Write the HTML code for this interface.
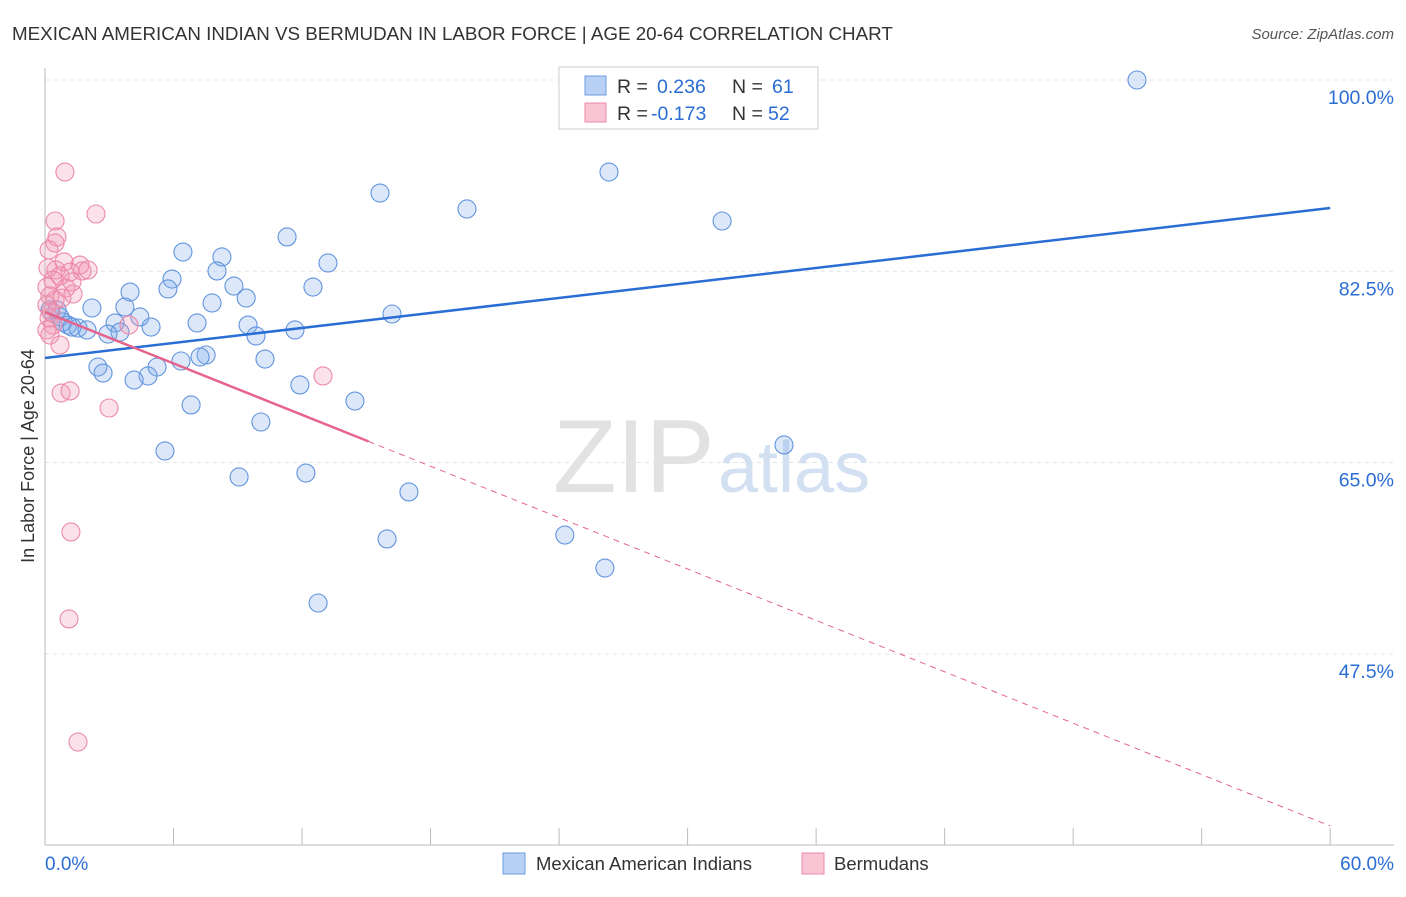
<!DOCTYPE html>
<html><head><meta charset="utf-8"><style>
body{margin:0;background:#fff;font-family:"Liberation Sans",sans-serif}
svg text{font-family:"Liberation Sans",sans-serif}
</style></head><body>
<svg id="c" width="1406" height="892">
<text x="12" y="40" font-size="18.8" fill="#333">MEXICAN AMERICAN INDIAN VS BERMUDAN IN LABOR FORCE | AGE 20-64 CORRELATION CHART</text>
<text x="1394" y="39" font-size="15" fill="#555" text-anchor="end" font-style="italic">Source: ZipAtlas.com</text>
<text transform="translate(34,456) rotate(-90)" font-size="18" fill="#333" text-anchor="middle">In Labor Force | Age 20-64</text>
<g id="grid"></g>
<text x="553" y="492" font-size="104" fill="#e2e2e2" font-family="Liberation Serif">ZIP</text>
<text x="718" y="492" font-size="72" fill="#d3e0f2">atlas</text>
<g id="pts"></g>
<g id="lines"></g>
<rect x="559" y="67" width="259" height="62" fill="#fff" stroke="#ccc"/>
<rect x="585" y="76" width="21" height="19" fill="#b8d0f4" stroke="#6a9be0"/>
<rect x="585" y="103" width="21" height="19" fill="#f9c4d3" stroke="#ec8aa8"/>
<text x="617" y="93" font-size="19.5" fill="#333">R = <tspan x="657" fill="#2a6dd4">0.236</tspan><tspan x="732">N = </tspan><tspan x="772" fill="#2a6dd4">61</tspan></text>
<text x="617" y="120" font-size="19.5" fill="#333">R = <tspan x="651" fill="#2a6dd4">-0.173</tspan><tspan x="732">N = </tspan><tspan x="768" fill="#2a6dd4">52</tspan></text>
<rect x="503" y="853" width="22" height="21" fill="#b8d0f4" stroke="#6a9be0"/>
<text x="536" y="870" font-size="18.5" fill="#333">Mexican American Indians</text>
<rect x="802" y="853" width="22" height="21" fill="#f9c4d3" stroke="#ec8aa8"/>
<text x="834" y="870" font-size="18.5" fill="#333">Bermudans</text>
<text x="45" y="870" font-size="19" fill="#2a6dd4">0.0%</text>
<text x="1394" y="870" font-size="19" fill="#2a6dd4" text-anchor="end">60.0%</text>
</svg>
<script>
const yTicks=[100,82.5,65,47.5];
const yTickLabels=["100.0%","82.5%","65.0%","47.5%"];
const xTicks=[0,6,12,18,24,30,36,42,48,54,60];
const blueX=[28.66,50.98,26.33,15.64,19.70,31.61,11.30,6.44,8.26,13.21,8.03,5.93,8.82,12.51,5.74,3.97,9.39,7.80,2.19,3.73,16.20,4.43,0.70,7.10,3.27,9.48,4.95,1.07,1.54,1.96,11.67,3.50,2.94,9.85,0.56,7.52,7.24,6.35,10.27,2.47,5.23,2.71,4.81,4.16,11.90,14.47,6.82,10.08,34.50,5.60,12.18,9.06,16.99,24.27,15.97,26.14,12.75,0.23,0.84,1.26];
const blueY=[100,100,91.58,89.66,88.20,87.10,85.64,84.26,83.81,83.26,82.53,81.79,81.15,81.06,80.88,80.60,80.05,79.60,79.14,79.23,78.59,78.32,78.32,77.77,77.77,77.58,77.40,77.58,77.31,77.13,77.13,76.94,76.76,76.58,78.96,74.84,74.66,74.29,74.47,73.74,73.74,73.19,72.92,72.55,72.10,70.63,70.27,68.71,66.61,66.06,64.04,63.68,62.31,58.37,58.01,55.35,52.15,78.96,77.86,77.40];
const pinkX=[0.93,2.38,0.47,0.56,0.47,0.19,1.63,0.89,0.14,0.51,1.17,1.73,0.70,0.37,1.26,0.09,0.98,1.31,0.23,0.47,0.09,0.28,0.19,0.37,0.09,0.23,0.70,3.92,12.98,0.75,1.17,2.99,1.21,1.12,1.54,2.01,0.79];
const pinkY=[91.58,87.74,87.10,85.64,85.09,84.45,83.07,83.35,82.80,82.62,82.43,82.53,82.07,81.70,81.52,81.06,80.97,80.42,80.24,79.87,79.41,78.77,78.23,77.58,77.13,76.67,75.75,77.58,72.92,71.36,71.55,69.99,58.65,50.69,39.43,82.62,80.05];
const blueTrend=[74.57,88.29];
const pinkTrend=[78.77,31.75];
const pinkSolidEnd=15.1;
const X=v=>45+v*21.42, Y=v=>80+(100-v)*10.93;
const NS="http://www.w3.org/2000/svg";
function mk(t,a,p){const e=document.createElementNS(NS,t);for(const k in a)e.setAttribute(k,a[k]);p.appendChild(e);return e;}
const grid=document.getElementById('grid');
yTicks.forEach((t,i)=>{
 const l=mk('line',{x1:45,x2:1394,y1:Y(t),y2:Y(t),stroke:'#e4e4e4','stroke-dasharray':'4,4'},grid);
 
 
 const tx=mk('text',{x:1394,y:Y(t)+24,'font-size':19.5,fill:'#2a6dd4','text-anchor':'end'},grid);
 tx.textContent=yTickLabels[i];
 
 
});
const ax=mk('line',{x1:45,x2:45,y1:68,y2:845,stroke:'#bbb'},grid);


const bx=mk('line',{x1:45,x2:1394,y1:845,y2:845,stroke:'#bbb'},grid);


xTicks.forEach(t=>{
 const l=mk('line',{x1:X(t),x2:X(t),y1:828,y2:845,stroke:'#bbb'},grid);
 
 
});
const pts=document.getElementById('pts');
blueX.forEach((v,i)=>{
 const c=mk('circle',{cx:X(v),cy:Y(blueY[i]),r:9,fill:'rgba(130,172,235,0.28)',stroke:'#6294de','stroke-width':1.1},pts);
 
 
});
pinkX.forEach((v,i)=>{
 const c=mk('circle',{cx:X(v),cy:Y(pinkY[i]),r:9,fill:'rgba(242,150,178,0.28)',stroke:'#ec8aa8','stroke-width':1.1},pts);
 
 
});
const ln=document.getElementById('lines');
const pv=x=>pinkTrend[0]+(pinkTrend[1]-pinkTrend[0])*x/60;
const b=mk('line',{x1:X(0),y1:Y(blueTrend[0]),x2:X(60),y2:Y(blueTrend[1]),stroke:'#2a6dd4','stroke-width':2.5},ln);


const p1=mk('line',{x1:X(0),y1:Y(pv(0)),x2:X(pinkSolidEnd),y2:Y(pv(pinkSolidEnd)),stroke:'#e5648e','stroke-width':2.5},ln);


const p2=mk('line',{x1:X(pinkSolidEnd),y1:Y(pv(pinkSolidEnd)),x2:X(60),y2:Y(pv(60)),stroke:'#e5648e','stroke-width':1,'stroke-dasharray':'6,5'},ln);


</script>
</body></html>
